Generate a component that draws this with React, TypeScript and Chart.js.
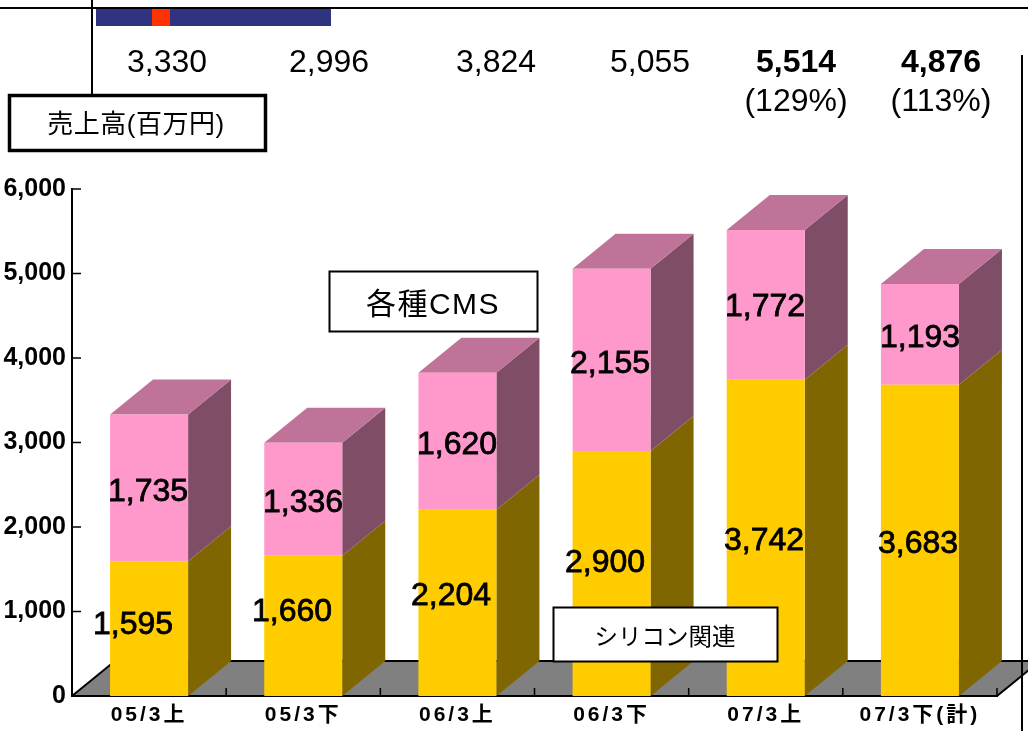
import React, { useEffect, useRef } from "react";
import { Chart, registerables } from "chart.js";

Chart.register(...registerables);

const categories = ["05/3上", "05/3下", "06/3上", "06/3下", "07/3上", "07/3下(計)"];
const siliconValues = [1595, 1660, 2204, 2900, 3742, 3683];
const cmsValues = [1735, 1336, 1620, 2155, 1772, 1193];
const totalLabels = ["3,330", "2,996", "3,824", "5,055", "5,514", "4,876"];
const totalBold = [false, false, false, false, true, true];
const ratioLabels = ["", "", "", "", "(129%)", "(113%)"];
const yTicks = [0, 1000, 2000, 3000, 4000, 5000, 6000];

const FAMILY = '"Liberation Sans","Noto Sans CJK JP",sans-serif';
const W = 1028;
const H = 731;
const DX = 43;
const DY = 35;

const totalX = [167, 329, 496, 650, 796, 941];
const siliconLabelPos = [[133, 625], [292, 612], [451, 596], [605, 563], [764, 541], [918, 544]];
const cmsLabelPos = [[148, 492], [303, 503], [457, 445], [610, 364], [765, 307], [920, 338]];

const rect = (c: CanvasRenderingContext2D, x: number, y: number, w: number, h: number, lw: number) => {
  c.fillStyle = "#fff";
  c.fillRect(x, y, w, h);
  c.strokeStyle = "#000";
  c.lineWidth = lw;
  c.strokeRect(x, y, w, h);
};

const poly = (c: CanvasRenderingContext2D, pts: number[][], fill: string) => {
  c.beginPath();
  pts.forEach(([x, y], i) => (i ? c.lineTo(x, y) : c.moveTo(x, y)));
  c.closePath();
  c.fillStyle = fill;
  c.fill();
};

const line = (c: CanvasRenderingContext2D, x1: number, y1: number, x2: number, y2: number, lw = 2, col = "#000") => {
  c.strokeStyle = col;
  c.lineWidth = lw;
  c.beginPath();
  c.moveTo(x1, y1);
  c.lineTo(x2, y2);
  c.stroke();
};

const text = (c: CanvasRenderingContext2D, s: string, x: number, y: number, font: string, heavy = 0, spacing = "0px") => {
  c.save();
  c.font = font;
  (c as any).letterSpacing = spacing;
  c.textAlign = "center";
  c.textBaseline = "middle";
  c.fillStyle = "#000";
  c.fillText(s, x, y);
  if (heavy) {
    c.strokeStyle = "#000";
    c.lineWidth = heavy;
    c.strokeText(s, x, y);
  }
  c.restore();
};

const bar3d = {
  id: "bar3d",
  afterLayout(chart: any) {
    const s = chart.scales.x;
    if (s.__spaced) return;
    s.__spaced = true;
    const orig = s.drawLabels.bind(s);
    s.drawLabels = (area: any) => {
      chart.ctx.save();
      chart.ctx.letterSpacing = "3px";
      orig(area);
      chart.ctx.restore();
    };
  },
  beforeDraw(chart: any) {
    const c = chart.ctx;
    const { left, right, bottom } = chart.chartArea;
    c.save();
    poly(c, [[left, bottom], [left + DX, bottom - DY], [right + DX, bottom - DY], [right, bottom]], "#808080");
    line(c, left, bottom, left + DX, bottom - DY);
    line(c, left + DX, bottom - DY, W, bottom - DY);
    line(c, right, bottom, right + DX, bottom - DY);
    c.restore();
  },
  beforeDatasetsDraw(chart: any) {
    const c = chart.ctx;
    const { bottom } = chart.chartArea;
    const x = chart.scales.x;
    const y = chart.scales.y;
    c.save();
    yTicks.forEach((v) => {
      const p = y.getPixelForValue(v);
      if (v) line(c, x.left, p, x.left + 9, p, 1.5);
    });
    const step = (x.right - x.left) / categories.length;
    categories.forEach((_, i) => {
      const p = x.left + step * (i + 1);
      line(c, p, bottom, p, bottom - 8, 1.5);
    });
    const sideCols = ["#806600", "#804d66"];
    chart.data.datasets.forEach((_: any, d: number) => {
      chart.getDatasetMeta(d).data.forEach((b: any) => {
        const r = b.x + b.width / 2;
        poly(c, [[r, b.y], [r + DX, b.y - DY], [r + DX, b.base - DY], [r, b.base]], sideCols[d]);
        if (d === 1) {
          const l = b.x - b.width / 2;
          poly(c, [[l, b.y], [l + DX, b.y - DY], [r + DX, b.y - DY], [r, b.y]], "#bf7399");
        }
      });
    });
    c.restore();
  },
  afterDraw(chart: any) {
    const c = chart.ctx;
    c.save();
    c.fillStyle = "#2f3380";
    c.fillRect(96, 9, 235, 17);
    c.fillStyle = "#ff3300";
    c.fillRect(152, 9, 18, 17);
    line(c, 0, 8, W, 8, 2);
    line(c, 92, 0, 92, 94, 2);
    line(c, 1022, 55, 1022, H, 2);

    const reg = `32px ${FAMILY}`;
    const bold = `bold 32px ${FAMILY}`;
    totalLabels.forEach((t, i) => text(c, t, totalX[i], 63, totalBold[i] ? bold : reg));
    ratioLabels.forEach((t, i) => t && text(c, t, totalX[i], 102, reg));

    siliconValues.forEach((v, i) =>
      text(c, v.toLocaleString("en-US"), siliconLabelPos[i][0], siliconLabelPos[i][1], reg, 0.8));
    cmsValues.forEach((v, i) =>
      text(c, v.toLocaleString("en-US"), cmsLabelPos[i][0], cmsLabelPos[i][1], reg, 0.8));

    rect(c, 9.5, 95.5, 256, 55, 3.5);
    text(c, "売上高(百万円)", 136, 126, `26px ${FAMILY}`, 0, "0.5px");
    rect(c, 329.5, 271.5, 208, 60, 2);
    text(c, "各種CMS", 433, 306, `30px ${FAMILY}`, 0, "1.5px");
    rect(c, 553.5, 607.5, 224, 54, 2);
    text(c, "シリコン関連", 665, 639, `23.5px ${FAMILY}`);
    c.restore();
  },
};

export default function App() {
  const ref = useRef<HTMLCanvasElement>(null);
  useEffect(() => {
    const chart = new Chart(ref.current as HTMLCanvasElement, {
      type: "bar",
      data: {
        labels: categories,
        datasets: [
          { label: "シリコン関連", data: siliconValues, backgroundColor: "#ffcc00", categoryPercentage: 1, barPercentage: 0.506 },
          { label: "各種CMS", data: cmsValues, backgroundColor: "#ff99cc", categoryPercentage: 1, barPercentage: 0.506 },
        ],
      },
      options: {
        responsive: false,
        animation: false,
        layout: { padding: { top: 189, right: W - 997, left: 0, bottom: 0 } },
        plugins: { legend: { display: false }, tooltip: { enabled: false }, title: { display: false } },
        scales: {
          x: {
            stacked: true,
            grid: { display: false, drawTicks: false },
            border: { display: true, color: "#000", width: 2 },
            afterFit: (s: any) => { s.height = H - 696; },
            ticks: {
              color: "#000",
              maxRotation: 0,
              autoSkip: false,
              padding: 7,
              font: { family: FAMILY, size: 21, weight: "bold" },
            },
          },
          y: {
            stacked: true,
            min: 0,
            max: 6000,
            grid: { display: false, drawTicks: false },
            border: { display: true, color: "#000", width: 2 },
            afterFit: (s: any) => { s.width = 72; },
            afterBuildTicks: (s: any) => { s.ticks = yTicks.map((value) => ({ value })); },
            ticks: {
              color: "#000",
              padding: 6,
              font: { family: FAMILY, size: 25, weight: "bold" },
              callback: (v: any) => Number(v).toLocaleString("en-US"),
            },
          },
        },
      },
      plugins: [bar3d],
    } as any);
    return () => chart.destroy();
  }, []);
  return (
    <canvas
      ref={ref}
      width={W}
      height={H}
      style={{ position: "absolute", left: 0, top: 0, display: "block", background: "#fff" }}
    />
  );
}
